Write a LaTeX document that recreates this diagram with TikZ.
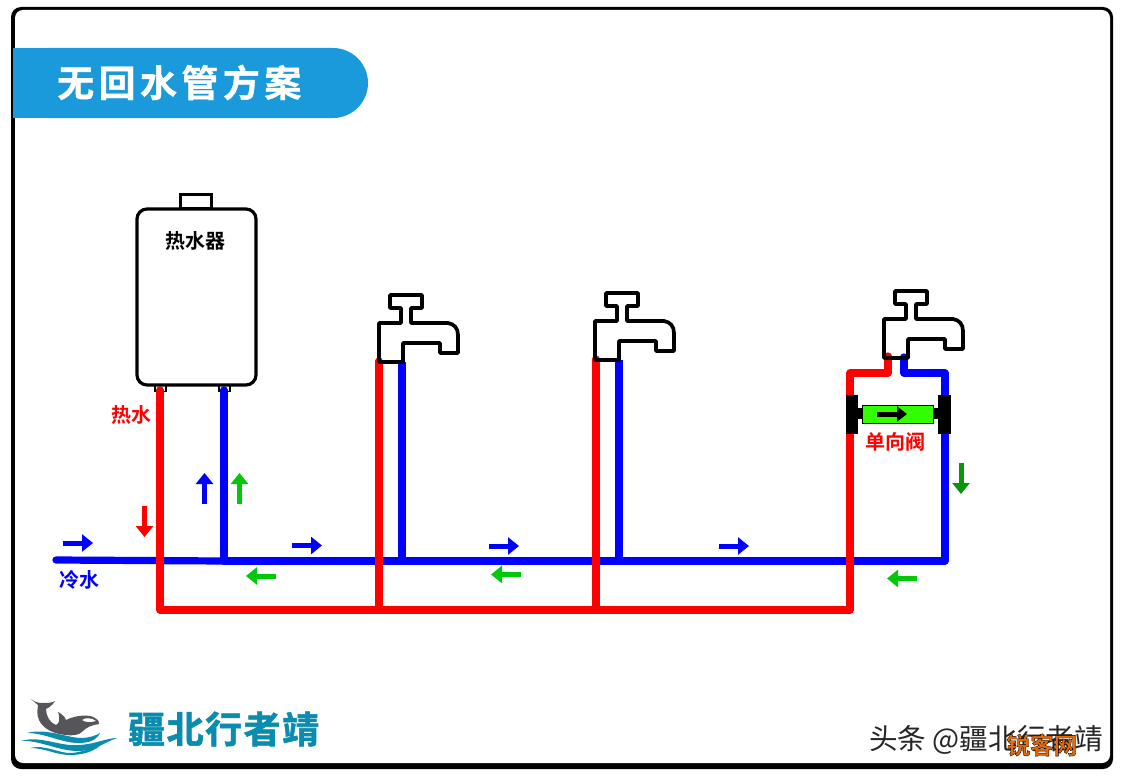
\documentclass[tikz,border=0pt]{standalone}
\usepackage{fontspec}
\setmainfont{Noto Sans CJK SC}
\newfontfamily\cjk{Noto Sans CJK SC}
\newfontfamily\cjkwide[LetterSpace=12,FakeBold=1]{Noto Sans CJK SC Bold}
\newfontfamily\cjklogo[LetterSpace=4,FakeBold=1.5]{Noto Sans CJK SC Bold}
\newfontfamily\cjkb{Noto Sans CJK SC Bold}
\newfontfamily\cjkthick[FakeBold=1.5]{Noto Sans CJK SC Bold}
\usetikzlibrary{arrows.meta}
\definecolor{hot}{RGB}{255,0,0}
\definecolor{cold}{RGB}{0,0,255}
\definecolor{flow}{RGB}{0,200,10}
\definecolor{flowdark}{RGB}{10,150,10}
\definecolor{badge}{RGB}{27,154,219}
\definecolor{teal}{RGB}{10,140,175}
\definecolor{whale}{RGB}{85,85,90}
\definecolor{valvegreen}{RGB}{50,255,0}
\tikzset{
  x=1pt,y=-1pt,
  pipehot/.style={draw=hot,line width=7.2pt,line join=round},
  pipecold/.style={draw=cold,line width=7.2pt,line join=round},
  outline/.style={draw=black,line width=3.7pt,line join=round,fill=none},
  flowarrow/.style={line width=5pt,-{Triangle[length=11pt,width=17pt]}},
  lab/.style={inner sep=0pt,font=\cjkb\fontsize{20}{20}\selectfont},
  faucetshape/.pic={
    \draw[outline] (379,362) -- (379,323) -- (401,323) -- (401,308) -- (390,308) -- (390,295)
      -- (422,295) -- (422,308) -- (411,308) -- (411,323) -- (448,323)
      .. controls (454,324) and (458,328) .. (458,335) -- (458,353) -- (440,353) -- (440,343)
      -- (403,343) -- (403,362) -- cycle;
  }
}
\begin{document}
\begin{tikzpicture}
\useasboundingbox (0,0) rectangle (1125,776);
\fill[white] (0,0) rectangle (1125,776);
% frame
\fill[black,rounded corners=10pt] (11,7) rectangle (1113,769);
\fill[white,rounded corners=8pt] (15,10) rectangle (1110,763);
% title badge
\fill[badge,rounded corners=35pt] (13,48) rectangle (368,118);
\fill[badge] (13,48) rectangle (60,118);
\node[anchor=west,inner sep=0pt,text=white] (title) at (57,82.5) {\cjkwide\fontsize{37}{37}\selectfont 无回水管方案};
% pipe end points
\coordinate (cin) at (56,560);
\coordinate (heatcold) at (224,390);
\coordinate (heathot) at (160,390);
\coordinate (mainleft) at (224,561);
\coordinate (mainright) at (945,561);
\coordinate (hotleft) at (160,610);
\coordinate (hotright) at (850,610);
% heater tabs
\draw[draw=black,line width=1.6pt] (155,385) rectangle (166,391.5);
\draw[draw=black,line width=1.6pt] (219,385) rectangle (230,391.5);
% cold pipes
\draw[pipecold,line cap=round] (cin) -- (mainleft);
\draw[pipecold,line cap=round] (heatcold) -- (mainleft) -- (mainright) -- (945,373) -- (904,373) -- (904,357);
\draw[pipecold] (402,362) -- (402,561);
\draw[pipecold] (619,360) -- (619,561);
% hot pipes
\draw[pipehot,line cap=round] (heathot) -- (hotleft) -- (hotright) -- (850,373) -- (888,373) -- (888,356);
\draw[pipehot,line cap=round] (379,361) -- (379,610);
\draw[pipehot,line cap=round] (596,359) -- (596,610);
% heater
\draw[draw=black,line width=3pt,fill=white] (180.5,208) rectangle (211,194.5);
\draw[draw=black,line width=3.2pt,rounded corners=10pt] (137,209) rectangle (256,385);
\node[lab,text=black] (heater) at (195,241) {热水器};
% faucets
\pic at (0,0) {faucetshape};
\pic at (216,-2) {faucetshape};
\pic at (505,-4) {faucetshape};
% valve
\fill[black] (846,395) rectangle (858,434);
\fill[black] (938,395) rectangle (951,434);
\fill[black] (858,408) rectangle (938,419);
\draw[draw=black,line width=1pt,fill=valvegreen] (862.5,405.5) rectangle (933,423);
\draw[black,line width=5pt,-{Triangle[length=10pt,width=15pt]}] (877,414) -- (907,414);
% labels
\node[lab,text=hot] (hotlab) at (131,415) {热水};
\node[lab,text=cold] (coldlab) at (79.5,580) {冷水};
\node[lab,text=hot] (valvelab) at (895,442) {单向阀};
% flow arrows
\draw[flowarrow,cold] (63,543) -- (93,543);
\draw[flowarrow,cold] (292,545.5) -- (322,545.5);
\draw[flowarrow,cold] (489,546) -- (519,546);
\draw[flowarrow,cold] (719,546) -- (749,546);
\draw[flowarrow,cold] (204.5,504) -- (204.5,473);
\draw[flowarrow,flow] (239.5,504) -- (239.5,473);
\draw[flowarrow,hot] (144.5,506) -- (144.5,537);
\draw[flowarrow,flow] (276,576) -- (246,576);
\draw[flowarrow,flow] (521,574.5) -- (491,574.5);
\draw[flowarrow,flow] (917,578.5) -- (887,578.5);
\draw[flowarrow,flowdark] (961,463) -- (961,494);
% logo whale
\fill[whale] (31,699) .. controls (36,703) and (40,703) .. (43,703) .. controls (47,703) and (52,703) .. (55,701)
  .. controls (52,706) and (48,708) .. (46,709) .. controls (46,716) and (50,723) .. (56,725)
  .. controls (60,724) and (60,716) .. (58,712) .. controls (62,714) and (65,717) .. (66,720)
  .. controls (76,715) and (90,714) .. (95,718) .. controls (98,720) and (100,722) .. (99,724)
  .. controls (92,725) and (87,727) .. (83,731) .. controls (80,735) and (72,736) .. (66,735)
  .. controls (54,734) and (43,729) .. (39,720) .. controls (36,714) and (38,708) .. (38,705) -- cycle;
\fill[white] (82,720) .. controls (86,717) and (92,718) .. (96,721) .. controls (92,722) and (86,723) .. (82,720) -- cycle;
% logo waves
\fill[teal] (27,733) .. controls (45,728) and (65,737) .. (80,738) .. controls (90,738) and (97,735) .. (100,733)
  .. controls (96,741) and (88,743) .. (78,743) .. controls (62,743) and (45,733) .. (27,733) -- cycle;
\fill[teal] (21,741) .. controls (40,735) and (60,747) .. (80,745) .. controls (95,744) and (107,738) .. (117,738)
  .. controls (105,742) and (95,751) .. (78,751) .. controls (58,751) and (40,740) .. (21,741) -- cycle;
\fill[teal] (30,748) .. controls (45,744) and (60,754) .. (72,753) .. controls (82,752) and (92,748) .. (100,746)
  .. controls (92,752) and (82,755) .. (70,755) .. controls (56,755) and (45,748) .. (30,748) -- cycle;
\node[anchor=west,inner sep=0pt,text=teal] (brand) at (128,729) {\cjklogo\fontsize{37}{37}\selectfont 疆北行者靖};
% watermarks
\node[anchor=east,inner sep=0pt,text=black!85] (toutiao) at (1103,740) {\cjk\fontsize{28.6}{28.6}\selectfont 头条 @疆北行者靖};
\node[inner sep=0pt] (site) at (1042,745) {\special{pdf:bcolor [0.92 0.41 0] [0 0 0]}\cjkthick\fontsize{23.5}{23.5}\selectfont 锐客网\special{pdf:ecolor}};
\end{tikzpicture}
\end{document}
